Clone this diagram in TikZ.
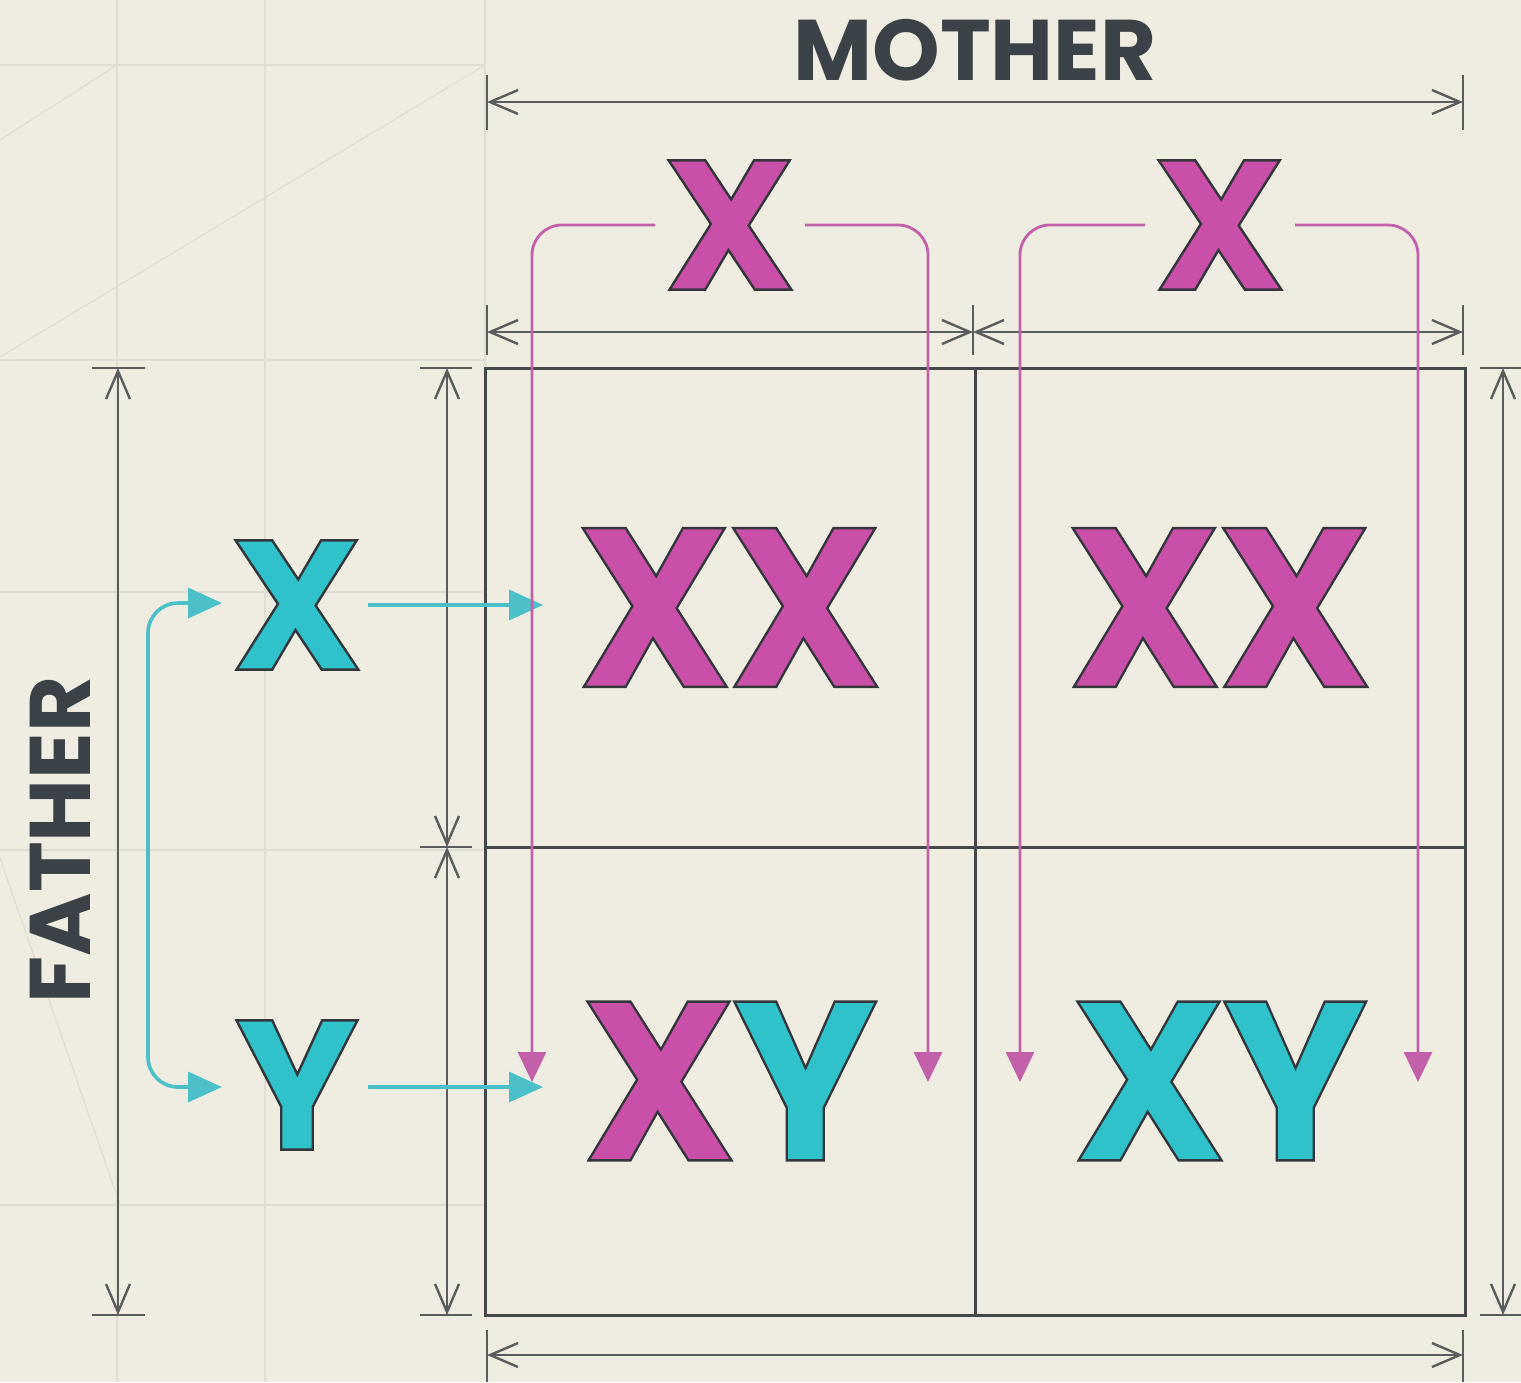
\documentclass[tikz,border=0pt]{standalone}
\usepackage{fontspec}
\setmainfont{Poppins}
\usetikzlibrary{arrows.meta}
\definecolor{bg}{HTML}{EFEDE2}
\definecolor{gridc}{HTML}{E0DDD2}
\definecolor{dimc}{HTML}{5A5D5E}
\definecolor{boxc}{HTML}{45484A}
\definecolor{txtc}{HTML}{3B4247}
\definecolor{pinkc}{HTML}{C94FA8}
\definecolor{pinkl}{HTML}{C261AA}
\definecolor{cyanc}{HTML}{2FC2CA}
\definecolor{cyanl}{HTML}{4CC0C8}
\newcommand\olet[2]{{\color{#1}\special{pdf:literal direct 2 Tr 1.2 w 0.2 0.21 0.23 RG}#2\special{pdf:literal direct 0 Tr}}}
\begin{document}
\begin{tikzpicture}[x=0.5pt,y=-0.5pt,
  gridl/.style={draw=gridc,line width=0.6pt},
  dimline/.style={draw=dimc,line width=1.2pt,{Straight Barb[length=14pt,width=12pt,line width=1.2pt]}-{Straight Barb[length=14pt,width=12pt,line width=1.2pt]}},
  ext/.style={draw=dimc,line width=1.2pt},
  cell/.style={draw=boxc,line width=1.5pt,minimum width=245pt,inner sep=0pt,outer sep=0pt},
  toprow/.style={cell,minimum height=239.5pt},
  botrow/.style={cell,minimum height=234pt},
  big/.style={font=\bfseries\fontsize{113}{113}\selectfont,inner sep=0pt,xscale=0.955},
  mid/.style={font=\bfseries\fontsize{92}{92}\selectfont,inner sep=0pt},
  lab/.style={font=\bfseries\fontsize{43}{43}\selectfont,text=txtc,inner sep=0pt},
  cyarrow/.style={draw=cyanl,line width=1.8pt,-{Triangle[length=17pt,width=15pt]}},
  pkarrow/.style={draw=pinkl,line width=1.4pt,rounded corners=15pt,-{Triangle[length=15pt,width=14pt]}}
]
\fill[bg] (0,0) rectangle (1521,1382);
\useasboundingbox (0,0) rectangle (1521,1382);
% faint background grid
\draw[gridl] (117,0) -- (117,1382);
\draw[gridl] (265,0) -- (265,1382);
\draw[gridl] (485,0) -- (485,365);
\draw[gridl] (0,65) -- (485,65);
\draw[gridl] (0,360) -- (485,360);
\draw[gridl] (0,592) -- (485,592);
\draw[gridl] (0,850) -- (485,850);
\draw[gridl] (0,1205) -- (485,1205);
\draw[gridl] (117,65) -- (0,140);
\draw[gridl] (485,65) -- (0,357);
\draw[gridl] (0,858) -- (120,1205);

% labels
\node[lab] (mother) at (975,50) {MOTHER};
\node[lab,rotate=90] (father) at (60,840) {FATHER};

% dimension lines
\coordinate (t1) at (487,102); \coordinate (t2) at (1463,102);
\draw[ext] (487,75) -- (487,130); \draw[ext] (1463,75) -- (1463,130);
\draw[dimline] (t1) -- (t2);

\coordinate (r1) at (487,332); \coordinate (r2) at (973,332); \coordinate (r3) at (1463,332);
\draw[ext] (487,305) -- (487,355); \draw[ext] (973,305) -- (973,355); \draw[ext] (1463,305) -- (1463,355);
\draw[dimline] (r1) -- (r2);
\draw[dimline] (r2) -- (r3);

\coordinate (l1) at (118,368); \coordinate (l2) at (118,1315);
\draw[ext] (92,368) -- (145,368); \draw[ext] (92,1315) -- (145,1315);
\draw[dimline] (l1) -- (l2);

\coordinate (i1) at (447,368); \coordinate (i2) at (447,847); \coordinate (i3) at (447,1315);
\draw[ext] (420,368) -- (472,368); \draw[ext] (420,847) -- (472,847); \draw[ext] (420,1315) -- (472,1315);
\draw[dimline] (i1) -- (i2);
\draw[dimline] (i2) -- (i3);

\coordinate (q1) at (1503,368); \coordinate (q2) at (1503,1315);
\draw[ext] (1480,368) -- (1521,368); \draw[ext] (1480,1315) -- (1521,1315);
\draw[dimline] (q1) -- (q2);

\coordinate (b1) at (487,1355); \coordinate (b2) at (1463,1355);
\draw[ext] (487,1330) -- (487,1382); \draw[ext] (1463,1330) -- (1463,1382);
\draw[dimline] (b1) -- (b2);

% cells
\node[toprow] (c11) at (730,607.5) {};
\node[toprow] (c12) at (1220,607.5) {};
\node[botrow] (c21) at (730,1081) {};
\node[botrow] (c22) at (1220,1081) {};

% parent gametes
\node[mid] (mx1) at (730,225) {\olet{pinkc}{X}};
\node[mid] (mx2) at (1220,225) {\olet{pinkc}{X}};
\node[mid] (fx) at (297,605) {\olet{cyanc}{X}};
\node[mid] (fy) at (297,1085) {\olet{cyanc}{Y}};

% cyan connectors
\coordinate (fxs) at (368,605); \coordinate (fxe) at (543,605);
\coordinate (fys) at (368,1087); \coordinate (fye) at (543,1087);
\draw[cyarrow] (fxs) -- (fxe);
\draw[cyarrow] (fys) -- (fye);
\coordinate (bra) at (222,603); \coordinate (brb) at (222,1087);
\draw[cyarrow,rounded corners=15pt,{Triangle[length=17pt,width=15pt]}-{Triangle[length=17pt,width=15pt]}] (bra) -- (148,603) -- (148,1087) -- (brb);

% pink connectors
\coordinate (pa1) at (655,225); \coordinate (pe1) at (532,1082);
\coordinate (pa2) at (805,225); \coordinate (pe2) at (928,1082);
\coordinate (pa3) at (1145,225); \coordinate (pe3) at (1020,1082);
\coordinate (pa4) at (1295,225); \coordinate (pe4) at (1418,1082);
\draw[pkarrow] (pa1) -- (pe1 |- pa1) -- (pe1);
\draw[pkarrow] (pa2) -- (pe2 |- pa2) -- (pe2);
\draw[pkarrow] (pa3) -- (pe3 |- pa3) -- (pe3);
\draw[pkarrow] (pa4) -- (pe4 |- pa4) -- (pe4);

% offspring
\node[big] (o11) at (c11) {\olet{pinkc}{X}\kern-2pt\olet{pinkc}{X}};
\node[big] (o12) at (c12) {\olet{pinkc}{X}\kern-2pt\olet{pinkc}{X}};
\node[big] (o21) at (c21) {\olet{pinkc}{X}\kern-2pt\olet{cyanc}{Y}};
\node[big] (o22) at (c22) {\olet{cyanc}{X}\kern-2pt\olet{cyanc}{Y}};
\end{tikzpicture}
\end{document}
